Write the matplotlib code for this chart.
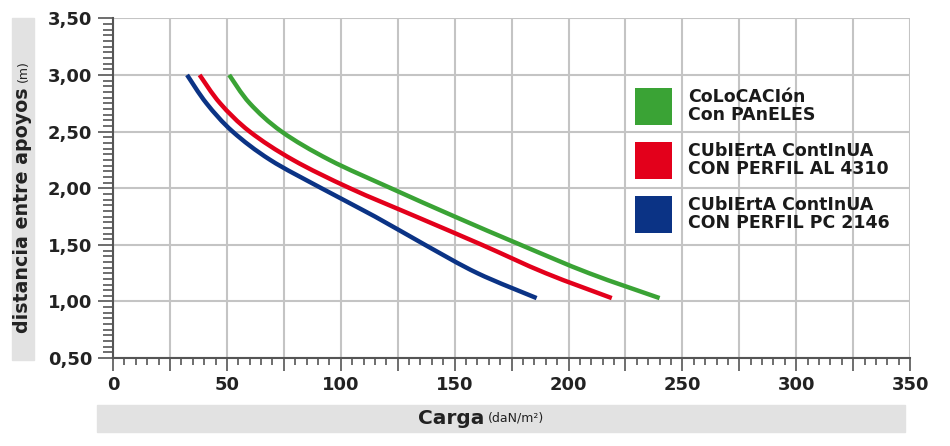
import matplotlib
matplotlib.use("Agg")
import numpy as np
import matplotlib.pyplot as plt
from matplotlib.patches import Rectangle, PathPatch
from matplotlib.path import Path
from matplotlib.ticker import MultipleLocator, FuncFormatter

# valores (carga daN/m2 para cada distancia)
distancia = [3.00, 2.75, 2.50, 2.25, 2.00, 1.75, 1.50, 1.25, 1.03]
carga_paneles = [51, 60, 74, 95, 122, 150, 179, 209, 240]
carga_al4310 = [38, 47, 60, 79, 104, 133, 162, 190, 219]
carga_pc2146 = [32.5, 41, 52.5, 69, 91.5, 115, 137, 160, 186]

series = [
    ("CoLoCACIón\nCon PAnELES", carga_paneles, "#3aa335"),
    ("CUbIErtA ContInUA\nCON PERFIL AL 4310", carga_al4310, "#e3001b"),
    ("CUbIErtA ContInUA\nCON PERFIL PC 2146", carga_pc2146, "#0b3385"),
]


# curva suave que pasa por los puntos leidos (Catmull-Rom como Bezier)
def smooth_path(x, y):
    p = np.column_stack([x, y]).astype(float)
    verts = [p[0]]
    codes = [Path.MOVETO]
    n = len(p)
    for i in range(n - 1):
        p0 = p[i - 1] if i > 0 else p[i]
        p1, p2 = p[i], p[i + 1]
        p3 = p[i + 2] if i + 2 < n else p[i + 1]
        verts += [p1 + (p2 - p0) / 6, p2 - (p3 - p1) / 6, p2]
        codes += [Path.CURVE4] * 3
    return Path(verts, codes)


fig = plt.figure(figsize=(9.5, 4.46), dpi=100)
ax = fig.add_axes([0.119, 0.197, 0.839, 0.762])

for label, carga, color in series:
    ax.add_patch(PathPatch(smooth_path(carga, distancia), fill=False, edgecolor=color,
                           lw=3.2, capstyle="butt", zorder=3))

ax.set_xlim(0, 350)
ax.set_ylim(0.5, 3.5)

ax.xaxis.set_major_locator(MultipleLocator(25))
ax.xaxis.set_minor_locator(MultipleLocator(5))
ax.yaxis.set_major_locator(MultipleLocator(0.5))
ax.yaxis.set_minor_locator(MultipleLocator(0.05))
ax.xaxis.set_major_formatter(FuncFormatter(lambda v, p: f"{v:.0f}" if v % 50 == 0 else ""))
ax.yaxis.set_major_formatter(FuncFormatter(lambda v, p: f"{v:.2f}".replace(".", ",")))

ax.grid(True, which="major", color="#c4c4c4", lw=1.5)
ax.set_axisbelow(True)
for s in ["top", "right"]:
    ax.spines[s].set_visible(False)
for s in ["left", "bottom"]:
    ax.spines[s].set_color("#555555")
    ax.spines[s].set_linewidth(1.5)

ax.tick_params(which="both", direction="out", width=1.2, color="#555555")
ax.tick_params(axis="y", which="major", length=11)
ax.tick_params(axis="y", which="minor", length=7)
ax.tick_params(axis="x", which="major", length=9)
ax.tick_params(axis="x", which="minor", length=5)
ax.tick_params(axis="both", labelsize=13, labelcolor="#222222", pad=4)
for t in ax.get_xticklabels() + ax.get_yticklabels():
    t.set_fontweight("bold")

# leyenda: cuadros de color y textos en dos lineas
for i, (label, _, color) in enumerate(series):
    top = 1 - (88 + 54 * i - 18) / 340
    ax.add_patch(Rectangle((0.655, top - 0.109), 0.0464, 0.109, transform=ax.transAxes,
                           facecolor=color, edgecolor="none", zorder=4))
    ax.text(0.7215, top - 0.052, label, transform=ax.transAxes, ha="left", va="center",
            fontsize=12.5, fontweight="bold", linespacing=0.95, color="#1a1a1a", zorder=4)

# bandas grises de los titulos de ejes
fig.patches.append(Rectangle((97 / 950, 1 - 432 / 446), 808 / 950, 27 / 446,
                             transform=fig.transFigure, color="#e2e2e2", zorder=0))
fig.patches.append(Rectangle((12 / 950, 1 - 360 / 446), 22 / 950, 342 / 446,
                             transform=fig.transFigure, color="#e2e2e2", zorder=0))

fig.text(484 / 950, 1 - 418 / 446, "Carga", ha="right", va="center",
         fontsize=14.5, fontweight="bold", color="#222222")
fig.text(488 / 950, 1 - 418 / 446, "(daN/m²)", ha="left", va="center",
         fontsize=9, color="#222222")
fig.text(23 / 950, 1 - 333 / 446, "distancia entre apoyos", rotation=90, ha="center",
         va="bottom", fontsize=13.7, fontweight="bold", color="#222222")
fig.text(23 / 950, 1 - 82 / 446, "(m)", rotation=90, ha="center", va="bottom",
         fontsize=9, color="#222222")

fig.savefig("out.png", dpi=100)
